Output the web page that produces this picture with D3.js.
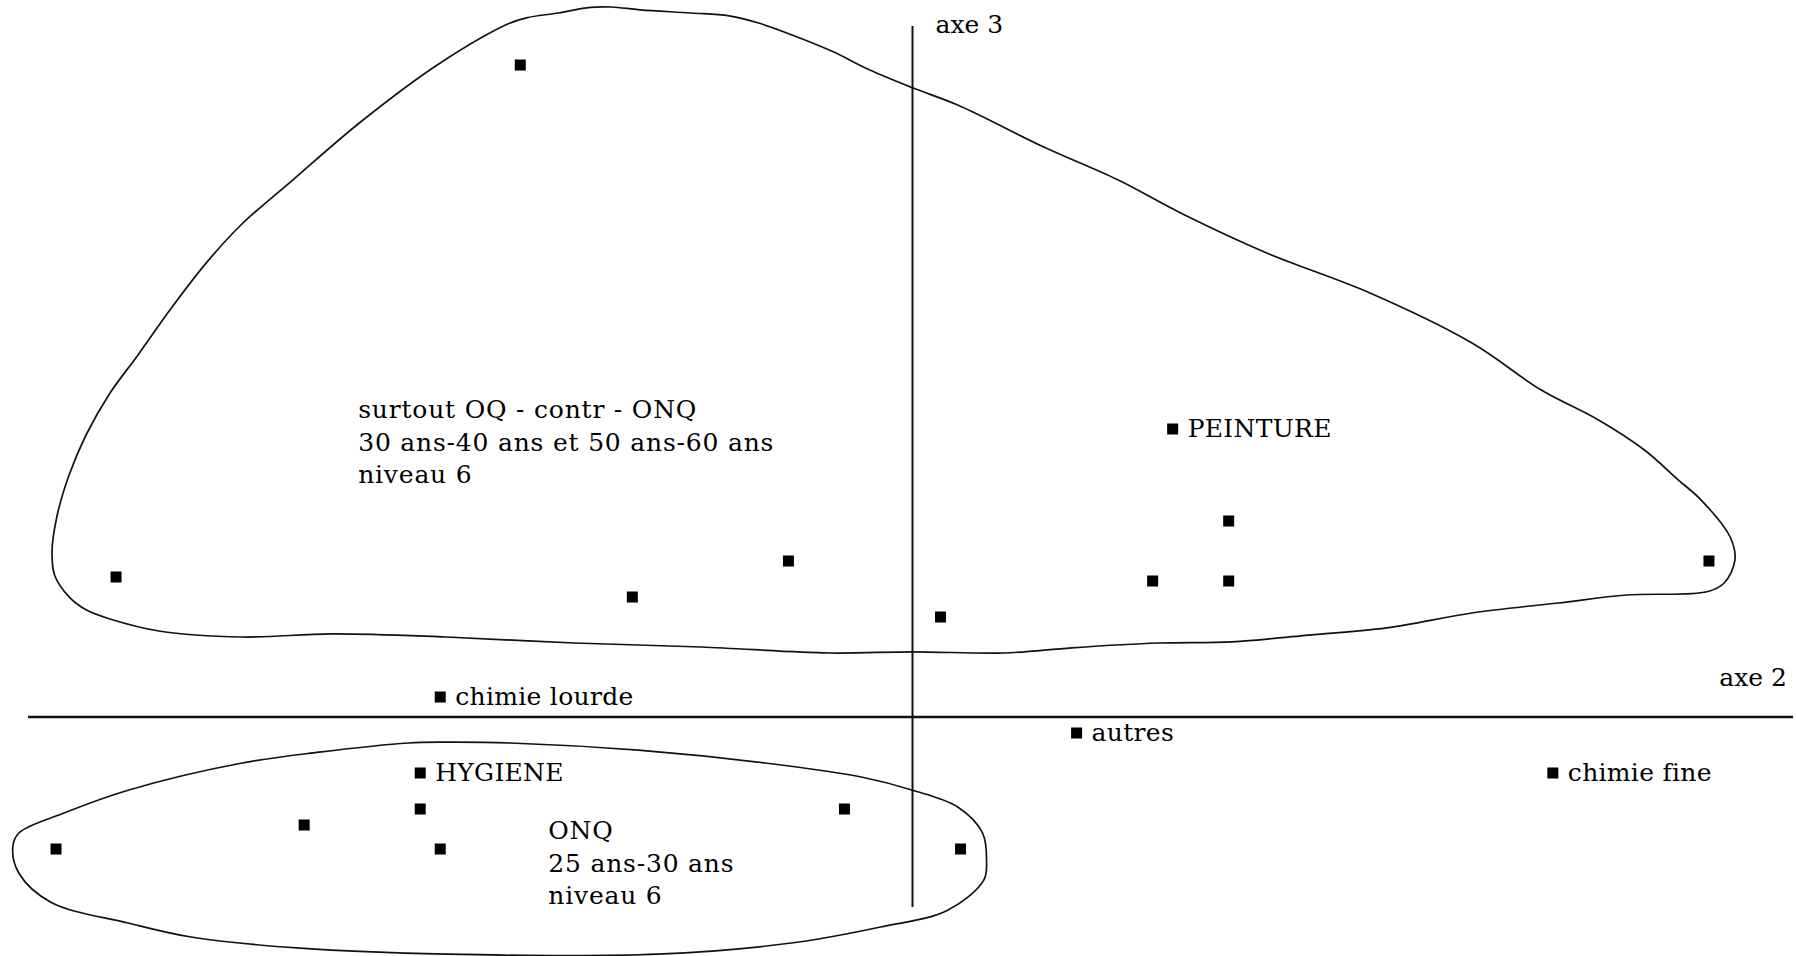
<!DOCTYPE html>
<html>
<head>
<meta charset="utf-8">
<script src="https://cdn.jsdelivr.net/npm/d3@7"></script>
<style>
  html, body { margin: 0; padding: 0; background: #fff; }
  svg { display: block; }
  text { font-family: "DejaVu Serif", "Liberation Serif", serif; fill: #000; }
</style>
</head>
<body>
<svg id="chart" width="1796" height="956"></svg>
<script>
// ---- Data (factor coordinates: axe 2 horizontal, axe 3 vertical) ----
const axe2Range = [-2.21, 2.2];
const axe3Range = [-0.475, 1.7275];

// unlabelled modalities
const pointsX = [-0.98, -1.99, -0.70, -0.31, 0.07, 0.79, 0.60, 0.79, 1.99, -1.23, -1.52, -2.14, -1.18, -0.17, 0.12];
const pointsY = [1.63, 0.35, 0.30, 0.39, 0.25, 0.49, 0.34, 0.34, 0.39, -0.23, -0.27, -0.33, -0.33, -0.23, -0.33];

// labelled modalities
const labelNames = ["PEINTURE", "chimie lourde", "autres", "chimie fine", "HYGIENE"];
const labelX = [0.65, -1.18, 0.41, 1.60, -1.23];
const labelY = [0.72, 0.05, -0.04, -0.14, -0.14];

// cluster outlines
const blob1X = [-0.753,-0.680,-0.555,-0.458,-0.378,-0.288,-0.198,-0.108,0.000,0.113,0.328,0.513,0.670,0.885,1.143,1.398,1.570,1.713,1.828,1.913,1.970,2.043,2.055,2.028,1.985,1.785,1.613,1.398,1.185,0.970,0.798,0.613,0.398,0.228,0.000,-0.208,-0.528,-0.845,-1.165,-1.450,-1.675,-1.883,-2.005,-2.065,-2.108,-2.143,-2.150,-2.138,-2.108,-2.065,-2.005,-1.936,-1.850,-1.764,-1.678,-1.548,-1.376,-1.180,-1.010,-0.965,-0.885,-0.805];
const blob1Y = [1.775,1.768,1.760,1.753,1.733,1.700,1.663,1.618,1.573,1.530,1.425,1.343,1.260,1.160,1.060,0.935,0.818,0.743,0.668,0.593,0.543,0.450,0.393,0.335,0.313,0.305,0.285,0.260,0.223,0.203,0.188,0.185,0.173,0.160,0.163,0.160,0.175,0.185,0.200,0.208,0.200,0.215,0.245,0.268,0.301,0.353,0.413,0.500,0.603,0.705,0.810,0.904,1.025,1.136,1.230,1.343,1.490,1.635,1.733,1.748,1.760,1.774];
const blob2X = [-2.248,-2.233,-2.120,-1.960,-1.675,-1.483,-1.260,-1.165,-1.005,-0.685,-0.368,-0.128,0.000,0.113,0.175,0.185,0.178,0.088,-0.080,-0.303,-0.638,-1.163,-1.530,-1.803,-1.960,-2.153,-2.233];
const blob2Y = [-0.325,-0.290,-0.240,-0.183,-0.115,-0.088,-0.065,-0.063,-0.065,-0.083,-0.115,-0.150,-0.183,-0.225,-0.290,-0.358,-0.408,-0.483,-0.525,-0.565,-0.593,-0.593,-0.578,-0.550,-0.515,-0.463,-0.390];

const groupTexts = [
  ["surtout OQ - contr - ONQ", "30 ans-40 ans et 50 ans-60 ans", "niveau 6"],
  ["ONQ", "25 ans-30 ans", "niveau 6"]
];
const groupTextX = [-1.385, -0.91];
const groupTextY = [0.7475, -0.305];

const axisNames = ["axe 2", "axe 3"];

// ---- Drawing ----
const svg = d3.select("#chart");
const x = d3.scaleLinear().domain(axe2Range).range([28, 1793]);
const y = d3.scaleLinear().domain(axe3Range).range([907, 26]);

// outlines
const line = d3.line().x(d => x(d[0])).y(d => y(d[1])).curve(d3.curveCatmullRomClosed.alpha(0.5));
[[blob1X, blob1Y], [blob2X, blob2Y]].forEach(([bx, by]) => {
  svg.append("path")
    .attr("d", line(d3.zip(bx, by)))
    .attr("fill", "none")
    .attr("stroke", "#111")
    .attr("stroke-width", 1.7);
});

// axes
svg.append("line")
  .attr("x1", x(axe2Range[0])).attr("x2", x(axe2Range[1]))
  .attr("y1", y(0)).attr("y2", y(0))
  .attr("stroke", "#111").attr("stroke-width", 2.4);
svg.append("line")
  .attr("x1", x(0)).attr("x2", x(0))
  .attr("y1", y(axe3Range[0])).attr("y2", y(axe3Range[1]))
  .attr("stroke", "#111").attr("stroke-width", 2);

svg.append("text").attr("x", x(axe2Range[1]) - 6).attr("y", y(0) - 31)
  .attr("text-anchor", "end")
  .attr("font-size", 25).text(axisNames[0]);
svg.append("text").attr("x", x(0) + 23).attr("y", y(axe3Range[1]) + 7)
  .attr("font-size", 25).text(axisNames[1]);

// markers
const ms = 11;
svg.selectAll("rect.pt").data(d3.zip(pointsX, pointsY)).join("rect")
  .attr("class", "pt")
  .attr("x", d => x(d[0]) - ms / 2).attr("y", d => y(d[1]) - ms / 2)
  .attr("width", ms).attr("height", ms).attr("fill", "#000");

const labelled = labelNames.map((n, i) => ({ n, x: labelX[i], y: labelY[i] }));
svg.selectAll("rect.lp").data(labelled).join("rect")
  .attr("class", "lp")
  .attr("x", d => x(d.x) - ms / 2).attr("y", d => y(d.y) - ms / 2)
  .attr("width", ms).attr("height", ms).attr("fill", "#000");
svg.selectAll("text.lbl").data(labelled).join("text")
  .attr("class", "lbl")
  .attr("x", d => x(d.x) + 15).attr("y", d => y(d.y) + 8)
  .attr("font-size", 25).attr("letter-spacing", 0.3).text(d => d.n);

// group descriptions
groupTexts.forEach((lines, gi) => {
  const t = svg.append("text").attr("font-size", 25).attr("letter-spacing", 0.8)
    .attr("x", x(groupTextX[gi])).attr("y", y(groupTextY[gi]));
  lines.forEach((s, li) => {
    t.append("tspan").attr("x", x(groupTextX[gi])).attr("dy", li === 0 ? 0 : 32.5).text(s);
  });
});
</script>
</body>
</html>
